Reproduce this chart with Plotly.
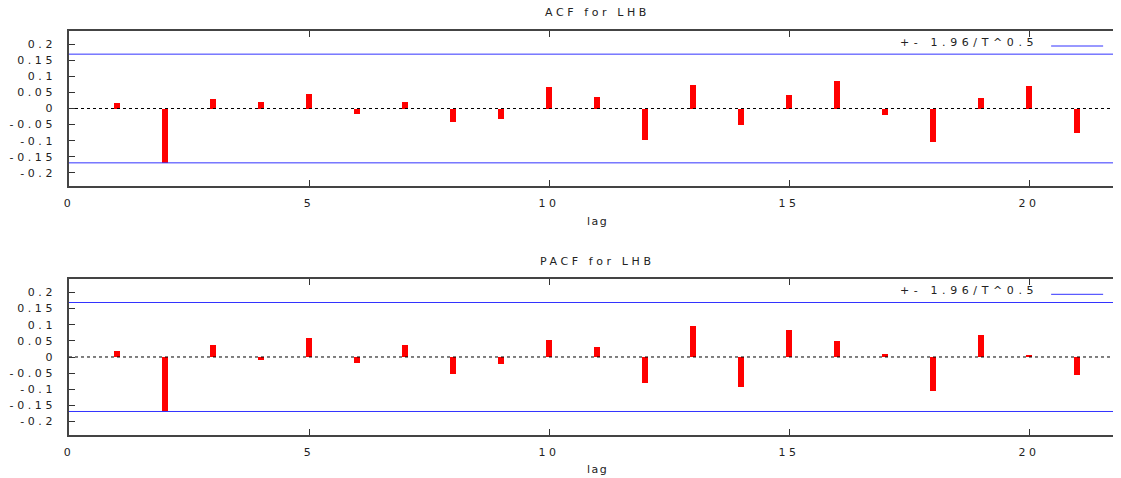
import plotly.graph_objects as go

lags = list(range(1, 22))
acf_values = [0.018, -0.168, 0.030, 0.020, 0.044, -0.016, 0.019, -0.041, -0.034, 0.068,
              0.037, -0.099, 0.073, -0.051, 0.042, 0.084, -0.019, -0.105, 0.033, 0.071, -0.075]
pacf_values = [0.019, -0.170, 0.037, -0.011, 0.058, -0.018, 0.037, -0.053, -0.023, 0.052,
               0.030, -0.082, 0.095, -0.094, 0.084, 0.049, 0.009, -0.105, 0.066, 0.005, -0.057]
band = 0.169
x_ticks = [0, 5, 10, 15, 20]
x_tick_text = ["0", "5", "10", "15", "20"]
y_ticks = [-0.2, -0.15, -0.1, -0.05, 0, 0.05, 0.1, 0.15, 0.2]
y_tick_text = ["-0.2", "-0.15", "-0.1", "-0.05", "0", "0.05", "0.1", "0.15", "0.2"]
titles = ["ACF for LHB", "PACF for LHB"]
band_label = "+- 1.96/T^0.5"
x_label = "lag"

# the page body has an 8px default margin; lay out in window coordinates
OFF = 8
WIN_W, WIN_H = 1121, 478
W, H = WIN_W - OFF, WIN_H - OFF
FONT = "DejaVu Sans"
TXT = "#222222"
SP = "letter-spacing:3.6px"
PLOT_L = 69          # window x of lag 0
PX_PER_LAG = 48
x_range = [0, (WIN_W - PLOT_L) / PX_PER_LAG]


def spaced(t, sp=SP):
    return f'<span style="{sp}">{t}</span>'


def px(xw):
    return (xw - OFF) / W


def py(yw):
    return 1 - (yw - OFF) / H


fig = go.Figure()

panels = [
    dict(vals=acf_values, xa="x", ya="y", leg="legend", top=31, bot=186, title=titles[0]),
    dict(vals=pacf_values, xa="x2", ya="y2", leg="legend2", top=279.3, bot=434.7, title=titles[1]),
]

for i, p in enumerate(panels):
    fig.add_trace(go.Scatter(x=x_range, y=[0, 0], mode="lines",
                             line=dict(color="black", width=1, dash="3px,3px"),
                             xaxis=p["xa"], yaxis=p["ya"], showlegend=False, hoverinfo="skip"))
    fig.add_trace(go.Scatter(x=x_range + [None] + x_range, y=[band, band, None, -band, -band],
                             mode="lines", line=dict(color="#3333ff", width=1),
                             xaxis=p["xa"], yaxis=p["ya"], name=" ", legend=p["leg"],
                             showlegend=True, hoverinfo="skip"))
    fig.add_trace(go.Bar(x=lags, y=p["vals"], width=0.12,
                         marker=dict(color="#ff0000", line=dict(width=0)),
                         xaxis=p["xa"], yaxis=p["ya"], showlegend=False))

layout = dict(
    width=W, height=H,
    margin=dict(l=0, r=0, t=0, b=0, autoexpand=False),
    plot_bgcolor="white", paper_bgcolor="white",
    font=dict(family=FONT, size=11, color=TXT),
    bargap=0,
    annotations=[],
)

tfont = dict(family=FONT, size=11, color=TXT)
center_x = px((PLOT_L + PLOT_L + 22 * PX_PER_LAG) / 2)

for i, p in enumerate(panels):
    sfx = "" if i == 0 else str(i + 1)
    ydom = [py(p["bot"]), py(p["top"])]
    layout["xaxis" + sfx] = dict(
        domain=[px(PLOT_L), 1], range=x_range, anchor="y" + sfx, automargin=False,
        tickvals=x_ticks, ticktext=[spaced(t) for t in x_tick_text],
        ticks="inside", ticklen=6, tickcolor="#333333",
        showline=True, linecolor="#444444", linewidth=1.5, mirror="allticks",
        showgrid=False, zeroline=False, ticklabelstandoff=6,
        tickfont=tfont,
    )
    layout["yaxis" + sfx] = dict(
        domain=ydom, range=[-0.241, 0.241], anchor="x" + sfx, automargin=False,
        tickvals=y_ticks, ticktext=[spaced(t) for t in y_tick_text],
        ticks="inside", ticklen=6, tickcolor="#333333",
        showline=True, linecolor="#444444", linewidth=1.5, mirror="allticks",
        showgrid=False, zeroline=False, ticklabelstandoff=9,
        tickfont=tfont,
    )
    layout["annotations"].append(dict(
        text=spaced(p["title"]), xref="paper", yref="paper",
        x=center_x, y=py(p["top"] - 18),
        xanchor="center", yanchor="middle", showarrow=False, font=tfont))
    layout["annotations"].append(dict(
        text=spaced(x_label, "letter-spacing:1.5px"), xref="paper", yref="paper",
        x=center_x, y=py(p["bot"] + 35),
        xanchor="center", yanchor="middle", showarrow=False, font=tfont))
    layout["legend" + sfx] = dict(
        x=px(WIN_W - 4), y=py(p["top"] + 0.5), xanchor="right", yanchor="top",
        bgcolor="rgba(0,0,0,0)", borderwidth=0,
        title=dict(text=spaced(band_label, "letter-spacing:4.6px"), side="left", font=tfont),
        font=tfont, itemwidth=52,
    )

fig.update_layout(**layout)
fig.write_html("out.html")
